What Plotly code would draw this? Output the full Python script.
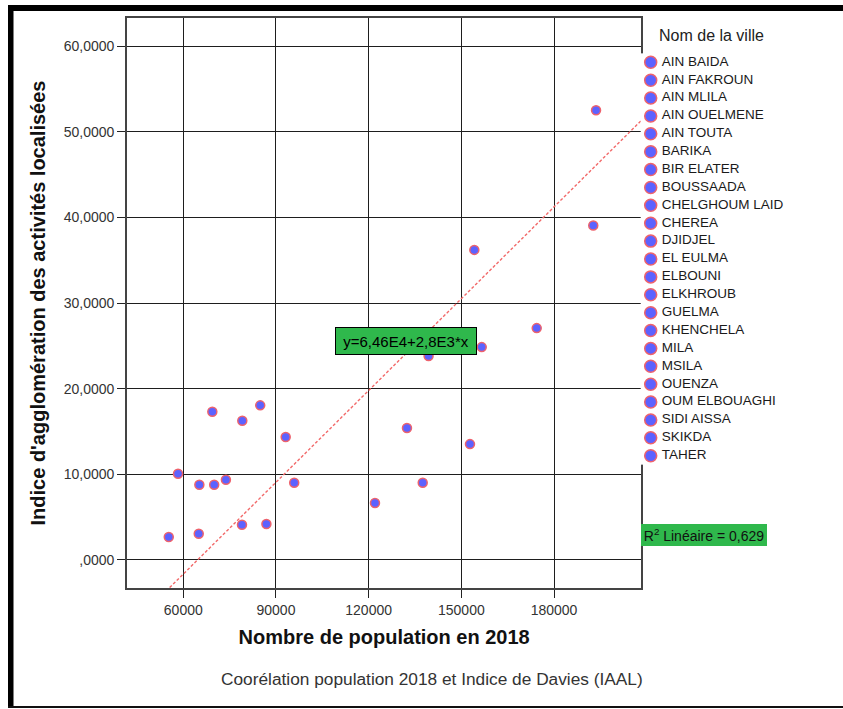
import plotly.graph_objects as go

# Villes (ordre de la légende), population 2018 et indice IAAL
cities = [
    "AIN BAIDA", "AIN FAKROUN", "AIN MLILA", "AIN OUELMENE", "AIN TOUTA",
    "BARIKA", "BIR ELATER", "BOUSSAADA", "CHELGHOUM LAID", "CHEREA",
    "DJIDJEL", "EL EULMA", "ELBOUNI", "ELKHROUB", "GUELMA", "KHENCHELA",
    "MILA", "MSILA", "OUENZA", "OUM ELBOUAGHI", "SIDI AISSA", "SKIKDA", "TAHER",
]
population_2018 = [
    132400, 65200, 84900, 73800, 79000,
    122050, 65000, 137500, 79100, 55300,
    154200, 193600, 152800, 192700, 139400, 156600,
    95900, 174400, 70000, 93150, 86900, 69400, 58300,
]
iaal_index = [
    15.40, 8.78, 18.05, 9.37, 4.12,
    6.65, 3.07, 9.02, 16.25, 2.68,
    36.20, 52.50, 13.53, 39.05, 23.80, 24.85,
    9.02, 27.07, 8.78, 14.35, 4.20, 17.30, 10.07,
]

# ajustement linéaire : population = a + b * indice
fit_intercept = 6.46e4
fit_slope = 2.8e3
r2_value = 0.629

x_ticks = [60000, 90000, 120000, 150000, 180000]
y_ticks = [0, 10, 20, 30, 40, 50, 60]
x_range = [41780, 208250]
y_range = [-3.27, 63.27]


def spss_decimal(v, digits=4):
    s = f"{v:.{digits}f}".replace(".", ",")
    return s[1:] if s.startswith("0,") else s


def sci(v):
    mant, exp = f"{v:.2e}".split("e")
    mant = mant.rstrip("0").rstrip(".").replace(".", ",")
    return f"{mant}E{int(exp)}"


equation_label = f"y={sci(fit_intercept)}+{sci(fit_slope)}*x"
r2_label = f"R<sup>2</sup> Linéaire = {f'{r2_value:.3f}'.replace('.', ',')}"

y_tick_text = [spss_decimal(v) for v in y_ticks]
x_tick_text = [str(v) for v in x_ticks]

W, H = 843, 709


def fx(p):
    return p / W


def fy(p):
    return 1 - p / H


FONT = "Liberation Sans, Arial, sans-serif"
BLUE = "rgb(92,98,255)"
RED = "rgb(238,98,108)"
GREEN = "#2fb84c"

# droite d'ajustement tracée dans le repère (population, indice)
fit_x = list(x_range)
fit_y = [(p - fit_intercept) / fit_slope for p in fit_x]

fig = go.Figure()

fig.add_trace(go.Scatter(
    x=fit_x, y=fit_y, mode="lines",
    line=dict(color="#f26a6a", width=1.4, dash="3px,2px"),
    hoverinfo="skip", showlegend=False,
))

fig.add_trace(go.Scatter(
    x=population_2018, y=iaal_index, mode="markers", text=cities,
    marker=dict(size=9, color=BLUE, line=dict(color=RED, width=1.5)),
    hovertemplate="%{text}<br>%{x}<br>%{y:.4f}<extra></extra>",
    showlegend=False,
))

# légende des villes
rank = list(range(len(cities)))
fig.add_trace(go.Scatter(
    x=[0] * len(cities), y=rank, xaxis="x2", yaxis="y2", mode="markers",
    marker=dict(size=12, color=BLUE, line=dict(color=RED, width=1.5)),
    hoverinfo="skip", showlegend=False, cliponaxis=False,
))
fig.add_trace(go.Scatter(
    x=[11] * len(cities), y=rank, xaxis="x2", yaxis="y2", mode="text",
    text=cities, textposition="middle right",
    textfont=dict(family=FONT, size=13.5, color="#1a1a1a"),
    hoverinfo="skip", showlegend=False, cliponaxis=False,
))

axis_common = dict(
    ticks="outside", ticklen=8, tickwidth=1.2, tickcolor="#222",
    showgrid=True, gridcolor="#1e1e1e", gridwidth=1.2,
    showline=True, mirror=True, linecolor="#444", linewidth=1.6,
    zeroline=False, tickfont=dict(family=FONT, size=14, color="#333"),
)

fig.update_layout(
    width=W, height=H,
    margin=dict(l=0, r=0, t=0, b=0),
    paper_bgcolor="white", plot_bgcolor="white",
    showlegend=False,
    xaxis=dict(
        domain=[fx(127), fx(641.3)], range=x_range,
        tickmode="array", tickvals=x_ticks, ticktext=x_tick_text,
        title=dict(text="Nombre de population en 2018", standoff=13,
                   font=dict(family=FONT, size=20, color="#111", weight="bold")),
        **axis_common,
    ),
    yaxis=dict(
        domain=[fy(588), fy(18)], range=y_range,
        tickmode="array", tickvals=y_ticks, ticktext=y_tick_text,
        title=dict(text="Indice d'agglomération des activités localisées", standoff=13,
                   font=dict(family=FONT, size=20, color="#111", weight="bold")),
        **axis_common,
    ),
    xaxis2=dict(domain=[fx(640.7), 1], range=[-10, 192.3], visible=False,
                anchor="y2", fixedrange=True),
    yaxis2=dict(domain=[fy(464.64), fy(53.36)], range=[22.5, -0.5], visible=False,
                anchor="x2", fixedrange=True),
    shapes=[
        dict(type="rect", xref="paper", yref="paper", x0=fx(8), x1=1,
             y0=fy(11), y1=fy(5), fillcolor="black", line=dict(width=0)),
        dict(type="rect", xref="paper", yref="paper", x0=fx(8), x1=fx(13.5),
             y0=fy(708), y1=fy(5), fillcolor="black", line=dict(width=0)),
        dict(type="rect", xref="paper", yref="paper", x0=fx(8), x1=1,
             y0=fy(708), y1=fy(706), fillcolor="#111", line=dict(width=0)),
    ],
    annotations=[
        dict(text=equation_label, xref="paper", yref="paper",
             x=fx(405.8), y=fy(340.5), xanchor="center", yanchor="middle",
             showarrow=False, font=dict(family=FONT, size=15, color="black"),
             bgcolor=GREEN, bordercolor="black", borderwidth=1, borderpad=3,
             width=134, height=20),
        dict(text=r2_label, xref="paper", yref="paper",
             x=fx(704), y=fy(535.2), xanchor="center", yanchor="middle",
             showarrow=False, font=dict(family=FONT, size=14, color="#111"),
             bgcolor=GREEN, borderwidth=0, borderpad=0, width=126, height=22),
        dict(text="Nom de la ville", xref="paper", yref="paper",
             x=fx(656.5), y=fy(35), xanchor="left", yanchor="middle",
             showarrow=False, font=dict(family=FONT, size=16, color="#222")),
        dict(text="Coorélation population 2018 et Indice de Davies (IAAL)",
             xref="paper", yref="paper", x=fx(432), y=fy(679),
             xanchor="center", yanchor="middle", showarrow=False,
             font=dict(family=FONT, size=17.3, color="#333")),
    ],
)

fig.write_html("out.html")
